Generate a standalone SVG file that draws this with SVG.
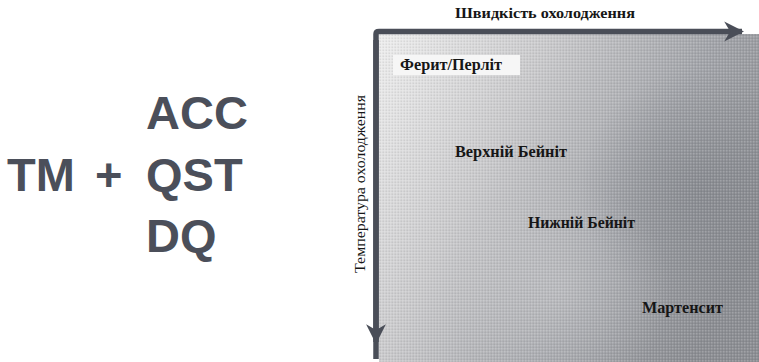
<svg xmlns="http://www.w3.org/2000/svg" width="759" height="362" viewBox="0 0 759 362">
  <defs>
    <linearGradient id="bg" x1="379" y1="34" x2="759" y2="230" gradientUnits="userSpaceOnUse">
      <stop offset="0" stop-color="#eeeeee"/>
      <stop offset="0.35" stop-color="#cbcbcd"/>
      <stop offset="0.7" stop-color="#a3a5aa"/>
      <stop offset="1" stop-color="#8c8e93"/>
    </linearGradient>
    <radialGradient id="dark" cx="700" cy="190" r="120" gradientUnits="userSpaceOnUse">
      <stop offset="0" stop-color="#7d8086" stop-opacity="0.55"/>
      <stop offset="1" stop-color="#7d8086" stop-opacity="0"/>
    </radialGradient>
    <radialGradient id="light" cx="560" cy="290" r="110" gradientUnits="userSpaceOnUse">
      <stop offset="0" stop-color="#d0d0d2" stop-opacity="0.45"/>
      <stop offset="1" stop-color="#d0d0d2" stop-opacity="0"/>
    </radialGradient>
    <pattern id="dots" x="0" y="0" width="3" height="3" patternUnits="userSpaceOnUse">
      <rect x="0" y="0" width="1.5" height="1.5" fill="#ffffff" fill-opacity="0.18"/>
      <rect x="1.5" y="1.5" width="1.5" height="1.5" fill="#000000" fill-opacity="0.07"/>
    </pattern>
    <marker id="ah" viewBox="0 0 10 10" refX="9" refY="5" markerWidth="3.6" markerHeight="4.4" orient="auto" markerUnits="strokeWidth">
      <path d="M0,0 L10,5 L0,10 L3,5 Z" fill="#4a4e58"/>
    </marker>
    <style>
      .big { font-family: "Liberation Sans", Arial, sans-serif; font-weight: bold; font-size: 47px; fill: #4b4f5a; }
      .lbl { font-family: "Liberation Serif", "Times New Roman", serif; font-weight: bold; font-size: 16px; fill: #161616; }
      .ttl { font-family: "Liberation Serif", "Times New Roman", serif; font-weight: bold; font-size: 15px; fill: #161616; }
      .ax { font-family: "Liberation Serif", "Times New Roman", serif; font-size: 15.5px; fill: #161616; }
      .axis { fill: none; stroke: #4a4e58; stroke-width: 5.5; }
    </style>
  </defs>
  <rect width="759" height="362" fill="#ffffff"/>

  <g id="formula">
    <text class="big" x="146" y="129">ACC</text>
    <text class="big" x="7" y="191">TM</text>
    <text class="big" x="95" y="191">+</text>
    <text class="big" x="146" y="191">QST</text>
    <text class="big" x="146" y="252">DQ</text>
  </g>

  <g id="field">
    <rect x="379" y="34" width="380" height="328" fill="url(#bg)"/>
    <rect x="379" y="34" width="380" height="328" fill="url(#dark)"/>
    <rect x="379" y="34" width="380" height="328" fill="url(#light)"/>
    <rect x="379" y="34" width="380" height="328" fill="url(#dots)"/>
  </g>

  <g id="connectors">
    <path class="axis" d="M376,359 L376,34 Q376,31.5 379,31.5 L742,31.5" marker-end="url(#ah)"/>
    <path class="axis" d="M376,40 L376,342" marker-end="url(#ah)"/>
  </g>

  <g id="axis-x">
    <text class="ttl" x="455" y="18" textLength="180" lengthAdjust="spacingAndGlyphs">Швидкість охолодження</text>
  </g>
  <g id="axis-y">
    <text class="ax" transform="translate(365,184) rotate(-90)" text-anchor="middle" textLength="178" lengthAdjust="spacingAndGlyphs">Температура охолодження</text>
  </g>

  <g id="ferrite">
    <rect x="393" y="55" width="127" height="20" fill="#f6f6f6"/>
    <text class="lbl" x="400" y="70" textLength="102" lengthAdjust="spacingAndGlyphs">Ферит/Перліт</text>
  </g>
  <g id="upper-bainite">
    <text class="lbl" x="455" y="157" textLength="112" lengthAdjust="spacingAndGlyphs">Верхній Бейніт</text>
  </g>
  <g id="lower-bainite">
    <text class="lbl" x="528" y="228" textLength="107" lengthAdjust="spacingAndGlyphs">Нижній Бейніт</text>
  </g>
  <g id="martensite">
    <text class="lbl" x="642" y="313" textLength="81" lengthAdjust="spacingAndGlyphs">Мартенсит</text>
  </g>
</svg>
